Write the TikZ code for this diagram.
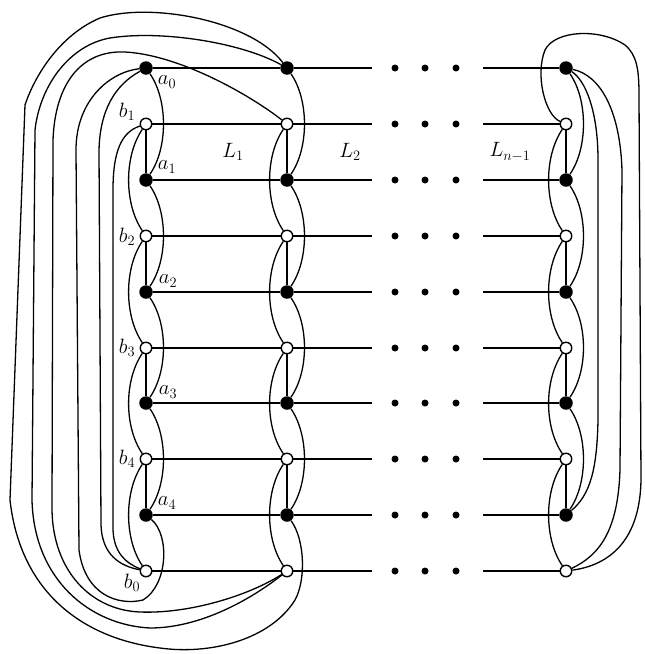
\documentclass[tikz,border=0pt]{standalone}
\usepackage{tikz}
\pgfdeclarelayer{bg}
\pgfsetlayers{bg,main}
\begin{document}
\begin{tikzpicture}[x=1pt,y=-1pt,
  anode/.style={circle,fill=black,inner sep=0pt,minimum size=13.5pt},
  bnode/.style={circle,draw=black,fill=white,line width=1.4pt,inner sep=0pt,minimum size=11.5pt},
  hl/.style={line width=2pt},
  hltop/.style={line width=2.6pt},
  rung/.style={line width=2.8pt},
  cv/.style={line width=1.3pt},
  lab/.style={inner sep=0pt,font=\fontsize{20}{22}\selectfont},
  dotn/.style={circle,fill=black,inner sep=0pt,minimum size=7pt}]
\useasboundingbox (0,0) rectangle (645,654);
% nodes
\foreach \c/\x in {L/146,M/287,R/566}{
  \foreach \n/\y/\s in {a0/68/anode,b1/124/bnode,a1/180/anode,b2/236/bnode,a2/292/anode,b3/348/bnode,a3/403/anode,b4/459/bnode,a4/515/anode,b0/571/bnode}{
    \node[\s] (\c\n) at (\x,\y) {};
  }
}
\foreach \n/\y in {a0/68,b1/124,a1/180,b2/236,a2/292,b3/348,a3/403,b4/459,a4/515,b0/571}{
  \coordinate (E\n) at (372,\y);
  \coordinate (S\n) at (483,\y);
  \node[dotn] (dA\n) at (395,\y) {};
  \node[dotn] (dB\n) at (425,\y) {};
  \node[dotn] (dC\n) at (456,\y) {};
}
\begin{pgfonlayer}{bg}
% horizontals
\draw[hltop] (La0) -- (Ma0) -- (Ea0);
\draw[hltop] (Sa0) -- (Ra0);
\foreach \n in {b1,a1,b2,a2,b3,a3,b4,a4,b0}{
  \draw[hl] (L\n) -- (M\n) -- (E\n);
  \draw[hl] (S\n) -- (R\n);
}
% rungs and waves
\foreach \c in {L,M,R}{
  \foreach \i in {1,2,3,4}{\draw[rung] (\c b\i) -- (\c a\i);}
  \foreach \i/\j in {0/1,1/2,2/3,3/4}{\draw[cv] (\c a\i) .. controls +(22,32) and +(22,-32) .. (\c a\j);}
  \foreach \i/\j in {1/2,2/3,3/4,4/0}{\draw[cv] (\c b\i) .. controls +(-22,32) and +(-22,-32) .. (\c b\j);}
}
% left column closing edges
\draw[cv] (La4) .. controls (170,535) and (168,585) .. (143,600) .. controls (118,606) and (85,595) .. (79,550) -- (76,150) .. controls (76,100) and (110,72) .. (La0);
\draw[cv] (La0) .. controls (115,85) and (100,110) .. (99,150) -- (101,525) .. controls (102,555) and (120,566) .. (Lb0);
\draw[cv] (Lb1) .. controls (122,132) and (113,150) .. (113,190) -- (113,530) .. controls (114,552) and (125,563) .. (Lb0);
% middle column closing edges
\draw[cv] (Ma4) .. controls (305,540) and (306,580) .. (295,600) .. controls (270,640) and (210,655) .. (160,648) .. controls (80,638) and (20,590) .. (10,500) -- (25,105) .. controls (35,75) and (60,35) .. (100,18) .. controls (150,2) and (250,20) .. (Ma0);
\draw[cv] (Ma0) .. controls (240,42) and (160,30) .. (110,38) .. controls (70,45) and (40,85) .. (35,130) -- (32,500) .. controls (34,580) and (90,625) .. (150,628) .. controls (200,628) and (250,600) .. (Mb0);
\draw[cv] (Mb1) .. controls (250,95) and (180,55) .. (125,52) .. controls (80,50) and (55,85) .. (53,140) -- (52,510) .. controls (53,570) and (90,610) .. (140,612) .. controls (190,614) and (250,595) .. (Mb0);
% right column closing edges
\draw[cv] (Ra0) .. controls (585,80) and (598,110) .. (598,160) -- (598,420) .. controls (597,470) and (590,495) .. (Ra4);
\draw[cv] (Ra0) .. controls (600,75) and (620,110) .. (622,170) -- (620,470) .. controls (618,530) and (600,555) .. (Rb0);
\draw[cv] (Rb1) .. controls (545,115) and (535,75) .. (545,50) .. controls (555,30) and (600,28) .. (625,45) .. controls (637,55) and (639,70) .. (639,95) -- (641,480) .. controls (640,540) and (610,565) .. (Rb0);
\end{pgfonlayer}
% labels
\node[lab] (la0) at (167,82) {$a_0$};
\node[lab] (lb1) at (127,112) {$b_1$};
\node[lab] (la1) at (167,167) {$a_1$};
\node[lab] (lb2) at (127,237) {$b_2$};
\node[lab] (la2) at (168,281) {$a_2$};
\node[lab] (lb3) at (127,348) {$b_3$};
\node[lab] (la3) at (168,392) {$a_3$};
\node[lab] (lb4) at (127,459) {$b_4$};
\node[lab] (la4) at (167,503) {$a_4$};
\node[lab] (lb0) at (132,583) {$b_0$};
\node[lab] (L1) at (233,152) {$L_1$};
\node[lab] (L2) at (350,152) {$L_2$};
\node[lab] (Ln) at (510,152) {$L_{n-1}$};
\end{tikzpicture}
\end{document}
